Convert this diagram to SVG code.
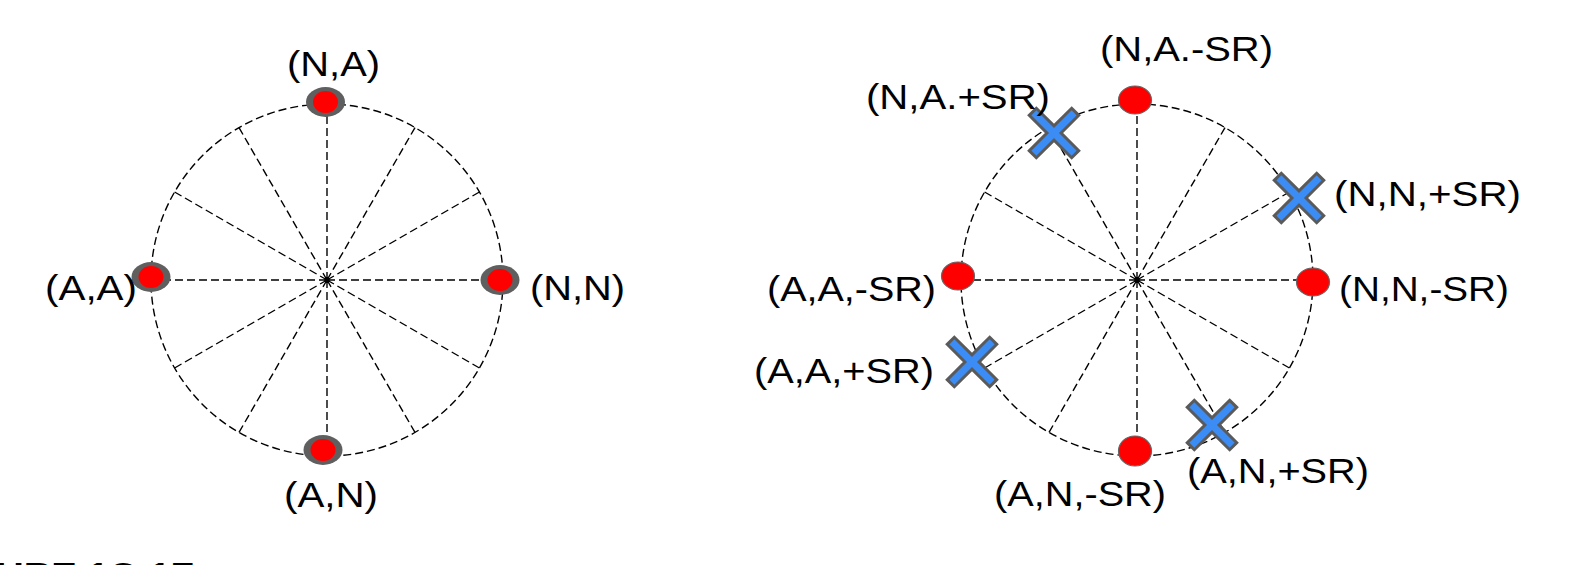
<svg xmlns="http://www.w3.org/2000/svg" width="1574" height="565" viewBox="0 0 1574 565">
<style>
.dash{fill:none;stroke:#000;stroke-width:1.4;stroke-dasharray:8 4}
.lbl{font-family:"Liberation Sans",Arial,sans-serif;font-size:35px;fill:#000}
.fig{font-family:"Liberation Sans",Arial,sans-serif;font-size:34px;font-weight:bold;fill:#000}
.ring{fill:#5f5f5f}
.core{fill:#ff0000}
.rdot{fill:#ff0000;stroke:#666;stroke-width:1.2}
.xmark{fill:#3b8cf5;stroke:#5a5a5a;stroke-width:3;stroke-linejoin:miter}
</style>
<defs>
<polygon id="xs" points="-5,-30 5,-30 5,-5 30,-5 30,5 5,5 5,30 -5,30 -5,5 -30,5 -30,-5 -5,-5" transform="rotate(45)"/>
</defs>
<rect width="1574" height="565" fill="#fff"/>
<g id="connectors">
<g id="left-wheel">
<circle class="dash" cx="327" cy="280" r="176"/>
<path class="dash" d="M327,280 L327,104 M327,280 L415,127.6 M327,280 L479.4,192 M327,280 L503,280 M327,280 L479.4,368 M327,280 L415,432.4 M327,280 L327,456 M327,280 L239,432.4 M327,280 L174.6,368 M327,280 L151,280 M327,280 L174.6,192 M327,280 L239,127.6"/>
</g>
<g id="right-wheel">
<circle class="dash" cx="1137" cy="280" r="176"/>
<path class="dash" d="M1137,280 L1137,104 M1137,280 L1225,127.6 M1137,280 L1289.4,192 M1137,280 L1313,280 M1137,280 L1289.4,368 M1137,280 L1225,432.4 M1137,280 L1137,456 M1137,280 L1049,432.4 M1137,280 L984.6,368 M1137,280 L961,280 M1137,280 L984.6,192 M1137,280 L1049,127.6"/>
</g>
</g>
<g id="node-NA">
<ellipse class="ring" cx="325.5" cy="102" rx="19.5" ry="15"/><ellipse class="core" cx="325.5" cy="102" rx="12.5" ry="11"/>
<text class="lbl" x="287" y="76" textLength="93" lengthAdjust="spacingAndGlyphs">(N,A)</text>
</g>
<g id="node-AA">
<ellipse class="ring" cx="151" cy="277" rx="19.5" ry="15"/><ellipse class="core" cx="151" cy="277" rx="12.5" ry="11"/>
<text class="lbl" x="45" y="300" textLength="92" lengthAdjust="spacingAndGlyphs">(A,A)</text>
</g>
<g id="node-NN">
<ellipse class="ring" cx="500" cy="280" rx="19.5" ry="15"/><ellipse class="core" cx="500" cy="280" rx="12.5" ry="11"/>
<text class="lbl" x="530" y="300" textLength="95" lengthAdjust="spacingAndGlyphs">(N,N)</text>
</g>
<g id="node-AN">
<ellipse class="ring" cx="323" cy="450" rx="19.5" ry="15"/><ellipse class="core" cx="323" cy="450" rx="12.5" ry="11"/>
<text class="lbl" x="284" y="507" textLength="94" lengthAdjust="spacingAndGlyphs">(A,N)</text>
</g>
<g id="node-NA-SR">
<ellipse class="rdot" cx="1135" cy="100" rx="16.5" ry="14"/>
<text class="lbl" x="1100" y="61" textLength="173" lengthAdjust="spacingAndGlyphs">(N,A.-SR)</text>
</g>
<g id="node-NA+SR">
<use href="#xs" class="xmark" x="1054" y="133"/>
<text class="lbl" x="866" y="109" textLength="184" lengthAdjust="spacingAndGlyphs">(N,A.+SR)</text>
</g>
<g id="node-NN+SR">
<use href="#xs" class="xmark" x="1299" y="198"/>
<text class="lbl" x="1334" y="206" textLength="187" lengthAdjust="spacingAndGlyphs">(N,N,+SR)</text>
</g>
<g id="node-AA-SR">
<ellipse class="rdot" cx="958" cy="276" rx="16.5" ry="14"/>
<text class="lbl" x="767" y="301" textLength="169" lengthAdjust="spacingAndGlyphs">(A,A,-SR)</text>
</g>
<g id="node-NN-SR">
<ellipse class="rdot" cx="1313" cy="282" rx="16.5" ry="14"/>
<text class="lbl" x="1339" y="301" textLength="170" lengthAdjust="spacingAndGlyphs">(N,N,-SR)</text>
</g>
<g id="node-AA+SR">
<use href="#xs" class="xmark" x="972" y="362"/>
<text class="lbl" x="754" y="383" textLength="180" lengthAdjust="spacingAndGlyphs">(A,A,+SR)</text>
</g>
<g id="node-AN+SR">
<use href="#xs" class="xmark" x="1212" y="425"/>
<text class="lbl" x="1187" y="483" textLength="182" lengthAdjust="spacingAndGlyphs">(A,N,+SR)</text>
</g>
<g id="node-AN-SR">
<ellipse class="rdot" cx="1135" cy="451" rx="16.5" ry="15"/>
<text class="lbl" x="994" y="506" textLength="172" lengthAdjust="spacingAndGlyphs">(A,N,-SR)</text>
</g>
<text class="fig" x="-4" y="586" textLength="198" lengthAdjust="spacingAndGlyphs">URE 1C-1F</text>
</svg>
